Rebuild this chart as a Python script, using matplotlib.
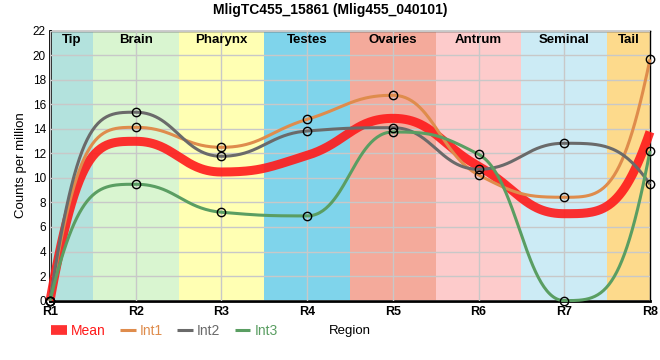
import numpy as np
import matplotlib
matplotlib.use('Agg')
import matplotlib.pyplot as plt
from matplotlib.lines import Line2D

plt.rcParams['font.family'] = ['Liberation Sans', 'DejaVu Sans']

# Datos
regions = ['R1', 'R2', 'R3', 'R4', 'R5', 'R6', 'R7', 'R8']
tissues = ['Tip', 'Brain', 'Pharynx', 'Testes', 'Ovaries', 'Antrum', 'Seminal', 'Tail']
tissue_colors = ['#b3e2dd', '#d9f5d0', '#ffffb3', '#7fd4eb',
                 '#f4aa9b', '#fdcbcb', '#ccebf5', '#fdda8c']

mean_vals = [0, 12.98, 10.48, 11.83, 14.85, 10.95, 7.08, 13.75]
int1 = [0, 14.12, 12.49, 14.77, 16.73, 10.24, 8.42, 19.66]
int2 = [0, 15.35, 11.76, 13.82, 14.09, 10.70, 12.82, 9.48]
int3 = [0, 9.48, 7.20, 6.90, 13.74, 11.92, 0, 12.19]


def smooth_curve(y, k=0.45, k_end=1/3, n=60):
    # curva suave sin sobrepasar los puntos (tangentes tipo monotone)
    y = np.asarray(y, dtype=float)
    m = len(y)
    s = np.diff(y)
    t = np.zeros(m)
    for i in range(1, m - 1):
        s0, s1 = s[i - 1], s[i]
        p = (s0 + s1) / 2
        sg = (1 if s0 >= 0 else -1) + (1 if s1 >= 0 else -1)
        t[i] = sg * min(abs(s0), abs(s1), 0.5 * abs(p))
    u = np.linspace(0, 1, n)
    xs, ys = [], []
    for i in range(m - 1):
        ka = k_end if i == 0 else k
        kb = k_end if i == m - 2 else k
        # en los extremos el punto de control llega a la altura del vecino
        ya = y[i + 1] if i == 0 else y[i] + ka * t[i]
        yb = y[i] if i == m - 2 else y[i + 1] - kb * t[i + 1]
        px = [i, i + ka, i + 1 - kb, i + 1]
        py = [y[i], ya, yb, y[i + 1]]
        b = [(1 - u)**3, 3 * (1 - u)**2 * u, 3 * (1 - u) * u**2, u**3]
        xs.append(sum(bb * v for bb, v in zip(b, px)))
        ys.append(sum(bb * v for bb, v in zip(b, py)))
    return np.concatenate(xs), np.concatenate(ys)


fig = plt.figure(figsize=(6.6, 3.6), dpi=100)
ax = fig.add_axes([0.0758, 0.165, 0.909, 0.75])

x = np.arange(len(regions))
last = len(regions) - 1
for i, (name, col) in enumerate(zip(tissues, tissue_colors)):
    lo, hi = max(i - 0.5, 0), min(i + 0.5, last)
    ax.axvspan(lo, hi, color=col, lw=0, zorder=0)
    ax.text((lo + hi) / 2, 21.2, name, ha='center', va='center', fontsize=9.5,
            fontweight='bold', zorder=5)

ax.set_xlim(0, last)
ax.set_ylim(0, 22)
ax.set_yticks(np.arange(0, 23, 2))
ax.set_xticks(x)
ax.set_xticklabels(regions, fontsize=9, fontweight='bold')
ax.tick_params(axis='y', labelsize=8.5, length=0, pad=3)
ax.tick_params(axis='x', length=0, pad=4)
ax.grid(True, color='#c8c8c8', lw=1, zorder=1)
ax.set_axisbelow(False)

series = [
    ('Mean', mean_vals, '#ff1a1a', 6.5),
    ('Int1', int1, '#df8c4c', 2.2),
    ('Int2', int2, '#6a6a6a', 2.2),
    ('Int3', int3, '#5a9e62', 2.2),
]
for name, vals, col, lw in series:
    xs, ys = smooth_curve(vals)
    alpha = 0.9 if name == 'Mean' else 1
    ax.plot(xs, ys, color=col, lw=lw, alpha=alpha, zorder=3,
            solid_capstyle='butt', clip_on=False)
    if name != 'Mean':
        ax.plot(x, vals, 'o', ms=6, mfc='none', mec='black', mew=1,
                zorder=4, clip_on=False)

for side in ['left', 'bottom']:
    ax.spines[side].set_linewidth(2)
for side in ['top', 'right']:
    ax.spines[side].set_linewidth(1)

ax.set_ylabel('Counts per million', fontsize=9.5, labelpad=4)
ax.set_xlabel('Region', fontsize=9.5, labelpad=5)

fig.text(0.5, 0.972, 'MligTC455_15861 (Mlig455_040101)', ha='center',
         va='center', fontsize=10, fontweight='bold')

handles = [Line2D([], [], color=c, lw=7 if n == 'Mean' else lw,
                  alpha=0.9 if n == 'Mean' else 1,
                  solid_capstyle='butt') for n, v, c, lw in series]
leg = ax.legend(handles, [s[0] for s in series], ncol=4, frameon=False,
                loc='center left', bbox_to_anchor=(0.078, 0.081),
                bbox_transform=fig.transFigure, handlelength=1.1,
                handletextpad=0.3, columnspacing=1.05, fontsize=10,
                borderpad=0, borderaxespad=0)
for txt, s in zip(leg.get_texts(), series):
    txt.set_color(s[2])

fig.savefig('out.png', dpi=100)
